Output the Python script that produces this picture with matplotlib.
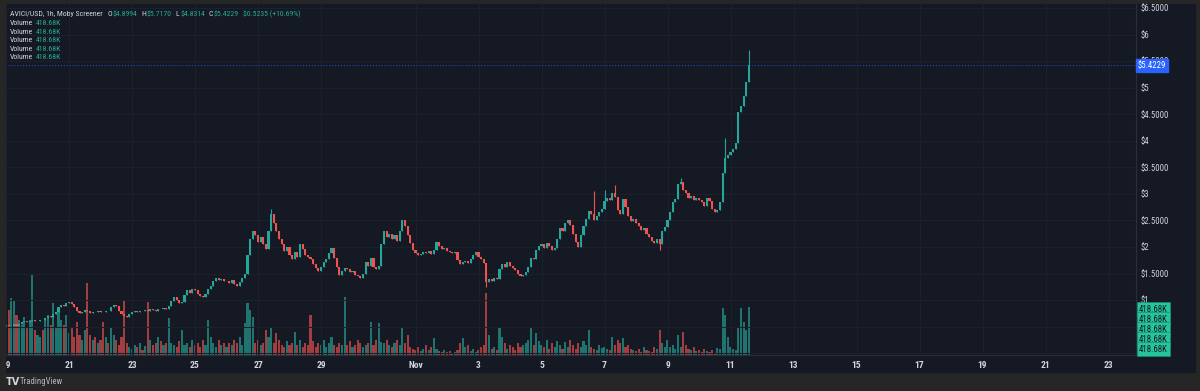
import matplotlib
matplotlib.use("Agg")
import matplotlib.pyplot as plt
import matplotlib.dates as mdates
import matplotlib.transforms as mtransforms
from matplotlib.patches import Rectangle
from matplotlib import font_manager
import numpy as np
import pandas as pd

# ---- data (2h candles, Oct 19 00:00 -> Nov 11 14:00) ----
closes = [
    # Oct 19
    0.53, 0.51, 0.52, 0.54, 0.52, 0.55, 0.58, 0.60, 0.58, 0.61, 0.62, 0.60,
    # Oct 20
    0.61, 0.63, 0.62, 0.66, 0.70, 0.68, 0.74, 0.78, 0.86, 0.90, 0.88, 0.94,
    # Oct 21
    0.97, 0.92, 0.86, 0.80, 0.75, 0.78, 0.82, 0.79, 0.76, 0.78, 0.77, 0.80,
    # Oct 22
    0.78, 0.77, 0.80, 0.79, 0.86, 0.91, 0.88, 0.80, 0.74, 0.70, 0.68, 0.74,
    # Oct 23
    0.77, 0.79, 0.78, 0.80, 0.79, 0.81, 0.80, 0.83, 0.82, 0.80, 0.84, 0.83,
    # Oct 24
    0.85, 0.84, 0.88, 0.98, 1.05, 1.00, 0.94, 0.97, 1.10, 1.18, 1.14, 1.20,
    # Oct 25
    1.18, 1.12, 1.08, 1.06, 1.12, 1.20, 1.27, 1.36, 1.42, 1.38, 1.40, 1.35,
    # Oct 26
    1.36, 1.33, 1.38, 1.30, 1.26, 1.34, 1.42, 1.50, 1.85, 2.15, 2.30, 2.22,
    # Oct 27
    2.10, 2.18, 2.05, 1.96, 2.30, 2.62, 2.45, 2.30, 2.15, 2.05, 1.92, 2.00,
    # Oct 28
    1.85, 1.78, 1.90, 1.82, 2.05, 1.96, 1.85, 1.82, 1.78, 1.68, 1.60, 1.55,
    # Oct 29
    1.62, 1.72, 1.78, 1.88, 1.98, 1.80, 1.62, 1.48, 1.55, 1.60, 1.58, 1.52,
    # Oct 30
    1.55, 1.48, 1.45, 1.42, 1.50, 1.72, 1.65, 1.80, 1.62, 1.58, 1.65, 2.05,
    # Oct 31
    2.30, 2.18, 2.25, 2.15, 2.22, 2.12, 2.30, 2.50, 2.40, 2.22, 2.08, 1.95,
    # Nov 1
    1.88, 1.84, 1.86, 1.90, 1.88, 1.92, 1.86, 1.95, 2.10, 2.02, 1.96, 1.98,
    # Nov 2
    1.92, 1.90, 1.88, 1.90, 1.76, 1.68, 1.72, 1.74, 1.70, 1.78, 1.85, 1.90,
    # Nov 3
    1.82, 1.78, 1.70, 1.34, 1.40, 1.36, 1.42, 1.40, 1.58, 1.68, 1.62, 1.72,
    # Nov 4
    1.65, 1.60, 1.56, 1.50, 1.46, 1.48, 1.52, 1.62, 1.80, 1.78, 1.95, 2.02,
    # Nov 5
    2.05, 1.98, 2.08, 2.02, 1.95, 1.98, 2.15, 2.35, 2.30, 2.45, 2.50, 2.42,
    # Nov 6
    2.25, 2.10, 2.00, 2.22, 2.40, 2.52, 2.68, 2.62, 2.50, 2.58, 2.65, 2.72,
    # Nov 7
    2.86, 2.92, 2.88, 3.02, 2.95, 2.70, 2.62, 2.90, 2.75, 2.58, 2.48, 2.52,
    # Nov 8
    2.45, 2.40, 2.32, 2.36, 2.25, 2.18, 2.12, 2.08, 2.15, 2.06, 2.30, 2.38,
    # Nov 9
    2.50, 2.65, 2.85, 2.90, 3.18, 3.22, 3.08, 3.02, 2.92, 2.96, 2.88, 2.92,
    # Nov 10
    2.88, 2.85, 2.78, 2.92, 2.86, 2.72, 2.66, 2.70, 2.84, 3.40, 3.68, 3.74,
    # Nov 11
    3.78, 3.85, 3.95, 4.55, 4.65, 4.85, 5.10, 5.4229,
]
first_open = 0.52

volumes_k = [
    757, 392, 496, 479, 348, 305, 261, 331, 244, 305, 696, 218,
    174, 157, 218, 305, 348, 261, 452, 244, 392, 305, 261, 348,
    191, 244, 157, 287, 174, 131, 218, 626, 174, 131, 157, 104,
    131, 287, 157, 104, 244, 174, 131, 87, 157, 479, 104, 70,
    52, 87, 70, 104, 44, 78, 461, 131, 87, 104, 157, 122,
    87, 104, 322, 104, 87, 70, 122, 218, 87, 104, 70, 131,
    87, 104, 70, 131, 87, 305, 157, 104, 70, 131, 87, 104,
    70, 104, 87, 131, 104, 157, 87, 278, 452, 392, 331, 104,
    131, 87, 104, 218, 157, 235, 104, 191, 131, 87, 70, 122,
    87, 104, 200, 87, 131, 70, 104, 87, 348, 122, 70, 104,
    87, 131, 70, 104, 157, 87, 70, 104, 87, 505, 87, 122,
    70, 87, 131, 104, 70, 87, 104, 287, 87, 131, 278, 113,
    104, 131, 87, 70, 104, 131, 87, 235, 104, 174, 70, 52,
    44, 70, 35, 52, 87, 44, 70, 148, 52, 35, 26, 44,
    26, 35, 17, 26, 44, 104, 148, 70, 87, 35, 52, 26,
    44, 70, 87, 539, 174, 52, 70, 44, 244, 157, 104, 52,
    87, 70, 44, 104, 70, 87, 104, 131, 244, 87, 191, 122,
    87, 70, 131, 52, 104, 70, 122, 87, 52, 113, 70, 131,
    87, 52, 104, 70, 122, 87, 218, 70, 52, 44, 87, 61,
    70, 52, 44, 157, 87, 131, 104, 148, 70, 87, 52, 44,
    35, 52, 26, 70, 44, 35, 26, 70, 52, 218, 104, 70,
    131, 70, 87, 52, 174, 70, 200, 87, 52, 44, 70, 35,
    44, 26, 52, 35, 26, 44, 17, 61, 52, 409, 348, 157,
    70, 52, 44, 244, 409, 287, 218, 419,
]

# notable wicks
wick_highs = {
    "2025-10-27 10:00": 2.72,
    "2025-11-06 16:00": 3.05,
    "2025-11-07 00:00": 3.08,
    "2025-11-07 08:00": 3.17,
    "2025-11-09 10:00": 3.30,
    "2025-11-10 20:00": 4.05,
    "2025-11-11 06:00": 4.35,
    "2025-11-11 14:00": 5.717,
}
wick_lows = {
    "2025-11-03 06:00": 1.25,
    "2025-11-08 18:00": 1.94,
}

price_ticks = [0, 0.5, 1, 1.5, 2, 2.5, 3, 3.5, 4, 4.5, 5, 5.5, 6, 6.5]
hidden_ticks = [0, 0.5]          # covered by the volume labels
last_price = 5.4229
vol_label = "418.68K"

# ---- colours ----
BG = "#151924"
FRAME = "#262626"
GRID = "#1c202b"
UP = "#26a69a"
DOWN = "#ef5350"
TXT = "#d1d4dc"
LEG_GREEN = "#22ab94"
BOX_GREEN = "#26c49c"

names = {f.name for f in font_manager.fontManager.ttflist}
UI_FONT = next((f for f in ["Liberation Sans Narrow", "Roboto Condensed", "Lato", "Roboto"]
                if f in names), "DejaVu Sans")
plt.rcParams["font.family"] = [UI_FONT, "DejaVu Sans"]

times = pd.date_range("2025-10-19 00:00", periods=len(closes), freq="2h")
x = mdates.date2num(times)
c = np.array(closes)
o = np.concatenate([[first_open], c[:-1]])
hi = np.maximum(o, c)
lo = np.minimum(o, c)
for k, v in wick_highs.items():
    i = times.get_loc(pd.Timestamp(k))
    hi[i] = max(hi[i], v)
for k, v in wick_lows.items():
    i = times.get_loc(pd.Timestamp(k))
    lo[i] = min(lo[i], v)
up = c >= o
cols = np.where(up, UP, DOWN)

W, H = 1200, 391
fig = plt.figure(figsize=(12, 3.91), dpi=100, facecolor=FRAME)
# dark chart panel (behind the axes)
fig.patches.append(Rectangle((5 / W, (H - 372) / H), 1190 / W, 368 / H,
                             transform=fig.transFigure, color=BG, zorder=-5))

rect = [5 / W, (H - 355) / H, 1131 / W, 351 / H]
axv = fig.add_axes(rect)
ax = fig.add_axes(rect, sharex=axv)
axv.set_facecolor(BG)
ax.patch.set_visible(False)

# volume
axv.bar(x, volumes_k, width=2 / 24 * 0.85, color=cols, alpha=0.65, linewidth=0)
axv.set_ylim(0, 3050)
axv.set_yticks([])

# candles
ax.vlines(x, lo, hi, colors=cols, linewidth=0.8, zorder=3)
body = np.maximum(np.abs(c - o), 0.008)
ax.bar(x, body, bottom=np.minimum(o, c), width=2 / 24 * 0.8, color=cols,
       linewidth=0, zorder=4)

ax.set_ylim(6.5 - (355 - 8) / 53.1, 6.5 + 4 / 53.1)
t0 = mdates.date2num(pd.Timestamp("2025-10-19"))
ax.set_xlim(t0 - 1 / 31.5, t0 + (1136 - 6) / 31.5)

# ticks
tick_dates = list(pd.date_range("2025-10-19", "2025-10-29", freq="2D")) + \
    list(pd.date_range("2025-11-01", "2025-11-23", freq="2D"))
ax.set_xticks(mdates.date2num(tick_dates))
ax.set_xticklabels(["Nov" if d.day == 1 else str(d.day) for d in tick_dates])
ax.yaxis.tick_right()
ax.set_yticks(price_ticks)
ax.set_yticklabels(["" if p in hidden_ticks else (f"${p:.0f}" if p == int(p) else f"${p:.4f}")
                    for p in price_ticks])
ax.tick_params(axis="x", length=0, pad=4, labelsize=6.8, colors=TXT)
ax.tick_params(axis="y", length=0, pad=3, labelsize=6.3, colors=TXT)
for lab in ax.get_xticklabels():
    lab.set_fontweight("bold")
ax.grid(True, color=GRID, linewidth=0.8)
ax.set_axisbelow(True)
axv.tick_params(axis="x", length=0, labelbottom=False)
for a in (ax, axv):
    for s in a.spines.values():
        s.set_visible(False)
ax.spines["right"].set_visible(True)
ax.spines["right"].set_color("#2a2e39")
ax.spines["bottom"].set_visible(True)
ax.spines["bottom"].set_color("#2a2e39")

# last price line + label
ax.axhline(last_price, color="#2962ff", linestyle=(0, (1, 2)), linewidth=0.7,
           alpha=0.8, zorder=2)
ax.text(1.0015, last_price, f"${last_price:.4f}", transform=ax.get_yaxis_transform(),
        ha="left", va="center", fontsize=6.3, color="white", zorder=10, clip_on=False,
        bbox=dict(boxstyle="square,pad=0.25", fc="#2962ff", ec="#2962ff"))

# volume labels stacked on the price scale
box_top = 304
for k in range(5):
    yc = box_top + 5 + k * 10.0
    fig.text(1139 / W, 1 - yc / H, vol_label, ha="left", va="center", fontsize=6.3,
             color="#131722", zorder=10,
             bbox=dict(boxstyle="square,pad=0.25", fc=BOX_GREEN, ec="#1a8f70", lw=0.5))

# legend in the top-left corner
renderer = fig.canvas.get_renderer()
pix = mtransforms.IdentityTransform()


def draw_pieces(x0, ytop, pieces, size=5.6):
    xx = x0
    for txt, col, gap in pieces:
        t = fig.text(xx, H - ytop, txt, color=col, fontsize=size, ha="left",
                     va="center", transform=pix, zorder=10)
        xx += t.get_window_extent(renderer).width + gap


draw_pieces(10, 14, [
    ("AVICI/USD, 1h, Moby Screener", TXT, 5),
    ("O", TXT, 0.5), ("$4.8994", LEG_GREEN, 4),
    ("H", TXT, 0.5), ("$5.7170", LEG_GREEN, 4),
    ("L", TXT, 0.5), ("$4.8314", LEG_GREEN, 4),
    ("C", TXT, 0.5), ("$5.4229", LEG_GREEN, 4),
    ("$0.5235 (+10.69%)", LEG_GREEN, 0),
])
for k in range(5):
    draw_pieces(10, 23 + k * 8.6, [("Volume", TXT, 3), (vol_label, LEG_GREEN, 0)])

# left frame strip drawn over the clipped first date label
fig.patches.append(Rectangle((0, 0), 5 / W, 1, transform=fig.transFigure,
                             color=FRAME, zorder=20))

# TradingView mark
fig.text(6 / W, 1 - 382 / H, "TV", fontsize=7, fontweight="bold", color=TXT,
         ha="left", va="center", family="DejaVu Sans")
fig.text(20 / W, 1 - 382 / H, "TradingView", fontsize=6.3, color="#b2b5be",
         ha="left", va="center")

fig.savefig("out.png", dpi=100, facecolor=FRAME)
